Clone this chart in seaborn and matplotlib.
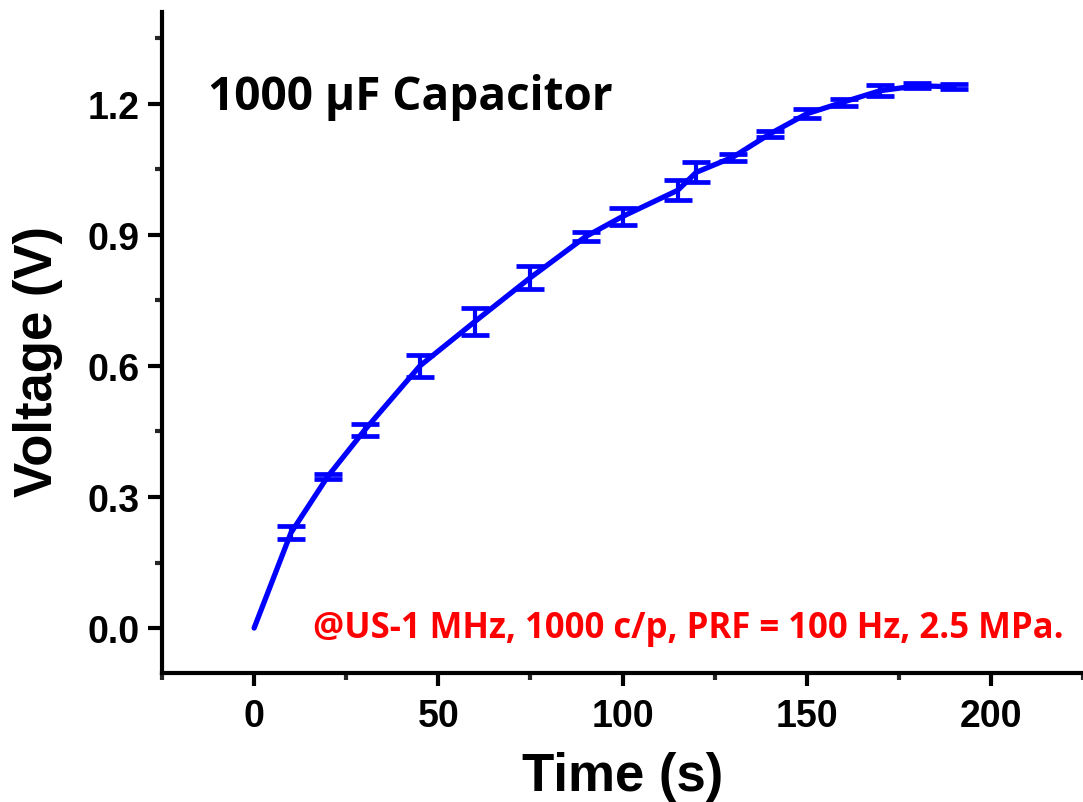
import matplotlib
matplotlib.use("Agg")
import matplotlib.pyplot as plt
from matplotlib.ticker import MultipleLocator
import numpy as np
import pandas as pd
import seaborn as sns

# Charging curve of a 1000 uF capacitor under ultrasound excitation
time_s = [0, 10, 20, 30, 45, 60, 75, 90, 100, 115, 120, 130, 140, 150, 160, 170, 180, 190]
voltage_v = [0.0, 0.218, 0.347, 0.453, 0.600, 0.702, 0.802, 0.896, 0.942, 1.002,
             1.043, 1.078, 1.131, 1.177, 1.204, 1.230, 1.241, 1.239]
voltage_err = [0.0, 0.015, 0.006, 0.014, 0.025, 0.031, 0.026, 0.010, 0.020, 0.023,
               0.023, 0.008, 0.006, 0.010, 0.008, 0.013, 0.006, 0.006]

x_ticks = [0, 50, 100, 150, 200]
y_ticks = [0.0, 0.3, 0.6, 0.9, 1.2]

df = pd.DataFrame({"Time": time_s, "Voltage": voltage_v, "Err": voltage_err})

sns.set_style("ticks")
plt.rcParams["font.family"] = ["Liberation Sans", "DejaVu Sans"]
plt.rcParams["text.color"] = "black"
plt.rcParams["axes.labelcolor"] = "black"

fig = plt.figure(figsize=(10.83, 8.03), dpi=100)
ax = fig.add_axes([0.1496, 0.1606, 0.8504, 0.8232])

blue = "#0000ff"
sns.lineplot(data=df, x="Time", y="Voltage", ax=ax, color=blue, linewidth=3.8,
             estimator=None, sort=False)

meas = df[df["Time"] > 0]
ax.errorbar(meas["Time"], meas["Voltage"], yerr=meas["Err"], fmt="none",
            ecolor=blue, elinewidth=3.0, capsize=10, capthick=3.4, zorder=3)

ax.set_xlim(-25, 225)
ax.set_ylim(-0.103, 1.41)
ax.set_xticks(x_ticks)
ax.set_yticks(y_ticks)
ax.set_yticklabels([f"{v:.1f}" for v in y_ticks])
ax.xaxis.set_minor_locator(MultipleLocator(25))
ax.yaxis.set_minor_locator(MultipleLocator(0.15))

for side in ("top", "right"):
    ax.spines[side].set_visible(False)
for side in ("left", "bottom"):
    ax.spines[side].set_linewidth(3.0)
    ax.spines[side].set_color("black")

ax.tick_params(axis="y", which="major", length=10, width=3.0, direction="out",
               labelsize=27, pad=6, colors="black")
ax.tick_params(axis="x", which="major", length=9, width=3.0, direction="out",
               labelsize=27, pad=9, colors="black")
ax.tick_params(axis="both", which="minor", length=5, width=3.0, direction="out")
for lab in ax.get_xticklabels() + ax.get_yticklabels():
    lab.set_fontweight("bold")

ax.set_xlabel("Time (s)", fontsize=38, fontweight="bold", labelpad=12, color="black")
ax.set_ylabel("Voltage (V)", fontsize=38, fontweight="bold", color="black")
ax.yaxis.set_label_coords(-0.108, 0.473)

ax.text(-12.5, 1.216, "1000 µF Capacitor", fontsize=33, fontweight="bold",
        family=["Open Sans", "DejaVu Sans"], ha="left", va="center", color="black")
ax.text(219.8, 0.0, "@US-1 MHz, 1000 c/p, PRF = 100 Hz, 2.5 MPa.", fontsize=25,
        fontweight="bold", family=["Open Sans", "DejaVu Sans"], ha="right",
        va="center", color="#ff0000")

fig.savefig("out.png", dpi=100)
